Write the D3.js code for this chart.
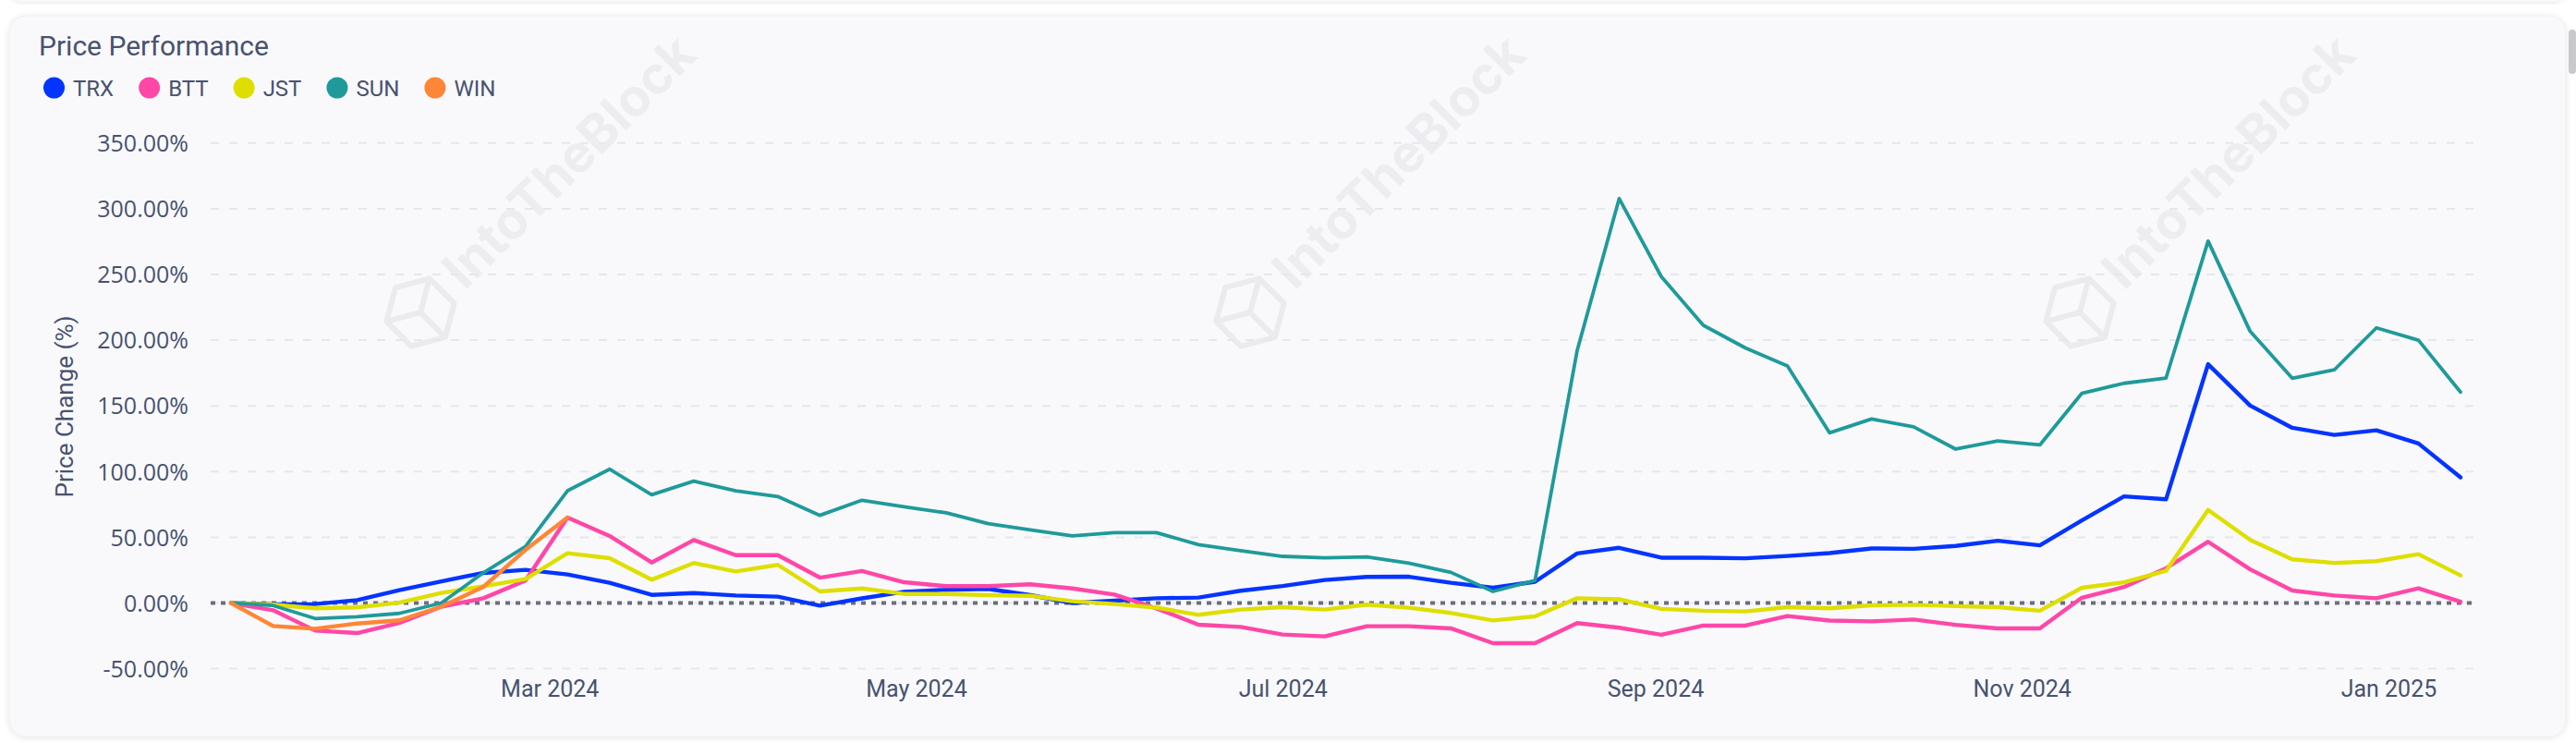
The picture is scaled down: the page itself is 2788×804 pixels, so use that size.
<!DOCTYPE html>
<html>
<head>
<meta charset="utf-8">
<script src="https://cdn.jsdelivr.net/npm/d3@7"></script>
<style>
  html, body { margin: 0; padding: 0; background: #ffffff; }
  svg { display: block; }
</style>
</head>
<body>
<svg id="chart" width="2788" height="804"></svg>
<script>
// ---------- DATA ----------
const dates = [
  "2024-01-08","2024-01-15","2024-01-22","2024-01-29","2024-02-05","2024-02-12","2024-02-19","2024-02-26",
  "2024-03-04","2024-03-11","2024-03-18","2024-03-25","2024-04-01","2024-04-08","2024-04-15","2024-04-22",
  "2024-04-29","2024-05-06","2024-05-13","2024-05-20","2024-05-27","2024-06-03","2024-06-10","2024-06-17",
  "2024-06-24","2024-07-01","2024-07-08","2024-07-15","2024-07-22","2024-07-29","2024-08-05","2024-08-12",
  "2024-08-19","2024-08-26","2024-09-02","2024-09-09","2024-09-16","2024-09-23","2024-09-30","2024-10-07",
  "2024-10-14","2024-10-21","2024-10-28","2024-11-04","2024-11-11","2024-11-18","2024-11-25","2024-12-02",
  "2024-12-09","2024-12-16","2024-12-23","2024-12-30","2025-01-06","2025-01-13"
];
const TRX = [0,-1,-0.8,2.2,9.8,16.5,22.9,25.2,21.7,15.4,6.2,7.6,5.7,4.8,-2,3.5,8.5,10,10.7,6,0,1.8,3.6,4.1,9.3,12.9,17.5,19.9,20,15.4,11.6,16.2,37.7,42,34.5,34.5,34,35.8,38,41.5,41.2,43.4,47.4,43.9,62.8,81.1,78.9,181.7,150.2,133.3,127.9,131.4,121.4,95.6];
const BTT = [0,-5.5,-21,-22.9,-15.2,-2.8,3.6,17,65,51,30.8,47.9,36.4,36.4,19.3,24.4,15.8,12.8,12.8,14.2,11.1,6.4,-4.1,-16.5,-18.2,-24,-25.4,-17.7,-17.7,-19.3,-30.6,-30.6,-15.3,-18.8,-24.2,-17.2,-17.2,-9.9,-13.4,-14,-12.6,-16.6,-19.3,-19.3,4,12.2,26.4,46.6,25.6,9.5,5.7,3.6,11.1,0.9];
const JST = [0,-1.2,-4,-3.3,0.3,7.6,12.8,18.2,37.9,34.1,17.7,30.4,24,29,8.8,11.1,6.9,6.9,6,5.5,1.3,-0.8,-3.5,-9,-5,-3.2,-5,-1.2,-3.6,-7.6,-13.3,-10.2,3.6,2.8,-4.5,-5.9,-6.4,-3.2,-4,-1.8,-1.3,-2.4,-3.2,-5.9,11.6,15.7,24.5,70.8,48,33.2,30.5,31.8,37.2,21];
const SUN = [0,-1.9,-11.8,-10.4,-7.9,0,23,43,85.4,101.8,82.4,92.7,85.4,81,66.7,78.2,73.3,68.6,60.4,55.7,51,53.5,53.5,44.4,39.9,35.5,34.3,35.1,30.3,23.3,8.8,17.2,191.9,307.7,248.4,211.3,194.1,180.4,129.5,140,134.1,117.1,123.3,120.3,159.6,167.2,171.2,275.4,206.7,171,177.4,209.4,200,160.5];
const WIN = [0,-17.5,-19.6,-15.6,-13.2,-2.8,12.3,40.4,65,null,null,null,null,null,null,null,null,null,null,null,null,null,null,null,null,null,null,null,null,null,null,null,null,null,null,null,null,null,null,null,null,null,null,null,null,null,null,null,null,null,null,null,null,null];
const seriesNames = ["TRX","BTT","JST","SUN","WIN"];
const seriesColors = ["#0434ff","#ff47a7","#dedf00","#1f9a9b","#ff8636"];
const yTicks = [-50,0,50,100,150,200,250,300,350];
const xTickDates = ["2024-03-01","2024-05-01","2024-07-01","2024-09-01","2024-11-01","2025-01-01"];

// ---------- SETUP ----------
const W = 2788, H = 804;
const svg = d3.select("#chart");
const textColor = "#485270";
const parse = d3.utcParse("%Y-%m-%d");
const dateVals = dates.map(parse);
const seriesData = [TRX, BTT, JST, SUN, WIN];

const plotLeft = 228, plotRight = 2680;
const x = d3.scaleUtc().domain([dateVals[0], dateVals[dateVals.length - 1]]).range([250, 2663]);
const y = d3.scaleLinear().domain([-50, 350]).range([723.6, 154.8]);

// Page pieces
const defs = svg.append("defs");
const f = defs.append("filter").attr("id", "shadow").attr("x", "-5%").attr("y", "-5%").attr("width", "110%").attr("height", "110%");
f.append("feDropShadow").attr("dx", 0).attr("dy", 1).attr("stdDeviation", 3).attr("flood-color", "#000").attr("flood-opacity", 0.10);

svg.append("rect").attr("x", 10).attr("y", -40).attr("width", 2767).attr("height", 42)
  .attr("rx", 16).attr("fill", "#f9f9fb").attr("filter", "url(#shadow)");
svg.append("rect").attr("x", 10).attr("y", 17).attr("width", 2767).attr("height", 780)
  .attr("rx", 18).attr("fill", "#f9f9fb").attr("stroke", "#eeeff2").attr("filter", "url(#shadow)");
svg.append("rect").attr("x", 2780).attr("y", 32).attr("width", 8).attr("height", 48)
  .attr("rx", 4).attr("fill", "#c9c9cd");

// Watermarks
const wmCenters = [455, 1353, 2251];
wmCenters.forEach(cx => {
  const g = svg.append("g").attr("transform", `translate(${cx},338) rotate(-45)`);
  const s = 38;
  const hex = d3.range(6).map(k => {
    const a = Math.PI / 6 + k * Math.PI / 3;
    return [s * Math.cos(a), s * Math.sin(a)];
  });
  g.append("path").attr("d", "M" + hex.map(p => p.join(",")).join("L") + "Z")
    .attr("fill", "none").attr("stroke", "#ebebef").attr("stroke-width", 6).attr("stroke-linejoin", "round");
  [1, 3, 5].forEach(k => {
    g.append("line").attr("x1", 0).attr("y1", 0).attr("x2", hex[k][0]).attr("y2", hex[k][1])
      .attr("stroke", "#ebebef").attr("stroke-width", 6);
  });
  g.append("text").attr("x", 50).attr("y", 18).text("IntoTheBlock")
    .attr("font-family", "Inter, Roboto, sans-serif").attr("font-weight", 700)
    .attr("font-size", 56).attr("fill", "#ededf1");
});

// Title
svg.append("text").attr("x", 42).attr("y", 60).text("Price Performance")
  .attr("font-family", "Roboto, sans-serif").attr("font-size", 30).attr("fill", textColor);

// Legend
let lx = 47;
seriesNames.forEach((name, i) => {
  const r = 11.5;
  svg.append("circle").attr("cx", lx + r).attr("cy", 95).attr("r", r).attr("fill", seriesColors[i]);
  const t = svg.append("text").attr("x", lx + 2 * r + 9).attr("y", 104).text(name)
    .attr("font-family", "Roboto, sans-serif").attr("font-size", 24).attr("fill", textColor);
  lx = lx + 2 * r + 9 + t.node().getComputedTextLength() + 27;
});

// Grid lines
svg.append("g").selectAll("line").data(yTicks).join("line")
  .attr("x1", plotLeft).attr("x2", plotRight)
  .attr("y1", d => y(d)).attr("y2", d => y(d))
  .attr("stroke", "#e6e7ec").attr("stroke-width", 2).attr("stroke-dasharray", "9,11");

// Y axis labels
const yAxis = d3.axisLeft(y).tickValues(yTicks).tickFormat(d => d.toFixed(2) + "%").tickSize(0).tickPadding(0);
const yg = svg.append("g").attr("transform", "translate(204,0)").call(yAxis);
yg.select(".domain").remove();
yg.selectAll("text").attr("font-family", "'Open Sans', sans-serif").attr("font-weight", 500)
  .attr("font-size", 25).attr("fill", textColor).attr("dy", "0.35em").attr("text-anchor", "end").attr("x", 0);

// Y title
svg.append("text").attr("transform", "translate(70,440) rotate(-90)")
  .attr("text-anchor", "middle").attr("dominant-baseline", "central").text("Price Change (%)")
  .attr("font-family", "Roboto, sans-serif").attr("font-size", 26).attr("fill", textColor);

// X axis labels
const xAxis = d3.axisBottom(x).tickValues(xTickDates.map(parse)).tickFormat(d3.utcFormat("%b %Y")).tickSize(0).tickPadding(0);
const xg = svg.append("g").attr("transform", "translate(0,754)").call(xAxis);
xg.select(".domain").remove();
xg.selectAll("text").attr("font-family", "Roboto, sans-serif").attr("font-size", 25)
  .attr("fill", textColor).attr("dy", 0).attr("y", 0);

// Zero reference line
svg.append("line").attr("x1", plotLeft).attr("x2", plotRight).attr("y1", y(0)).attr("y2", y(0))
  .attr("stroke", "#6b6f7c").attr("stroke-width", 4).attr("stroke-dasharray", "5,6");

// Lines
const line = d3.line().defined(d => d.v != null).x(d => x(d.date)).y(d => y(d.v));
seriesData.forEach((vals, i) => {
  const pts = vals.map((v, k) => ({ date: dateVals[k], v }));
  svg.append("path").datum(pts).attr("d", line)
    .attr("fill", "none").attr("stroke", seriesColors[i])
    .attr("stroke-width", seriesNames[i] === "SUN" ? 3.8 : 4.4)
    .attr("stroke-linejoin", "round").attr("stroke-linecap", "round");
});
</script>
</body>
</html>
